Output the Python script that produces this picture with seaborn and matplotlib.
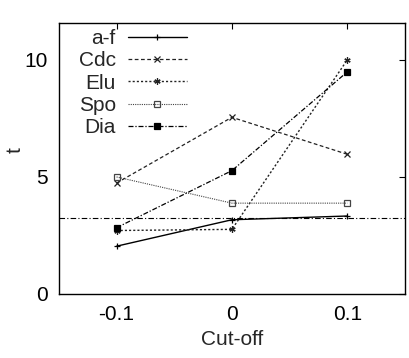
import pandas as pd
import numpy as np
import matplotlib.pyplot as plt
import seaborn as sns

cutoff = [-0.1, 0.0, 0.1]
af = [2.04, 3.17, 3.33]
cdc = [4.74, 7.55, 5.97]
elu = [2.71, 2.76, 10.0]
spo = [5.0, 3.88, 3.88]
dia = [2.83, 5.27, 9.49]
baseline = 3.26

series_names = ['a-f', 'Cdc', 'Elu', 'Spo', 'Dia']
series_vals = [af, cdc, elu, spo, dia]

sns.set_style('white')
plt.rcParams['font.family'] = ['Liberation Sans', 'DejaVu Sans']

fig = plt.figure(figsize=(4.09, 3.58), dpi=100)
ax = fig.add_axes([0.144, 0.179, 0.846, 0.758])

# styles for each line
styles = {
    'a-f': dict(linestyle='-', marker='+', markersize=5, color='black', lw=1.0),
    'Cdc': dict(linestyle=(0, (3, 2)), marker='x', markersize=4.5, color='#222222', lw=0.9),
    'Elu': dict(linestyle=(0, (1.5, 1.5)), marker=(6, 2, 0), markersize=4.5, color='#222222', lw=1.0),
    'Spo': dict(linestyle=(0, (1, 1)), marker='s', markersize=4.5, fillstyle='none', color='#444444', lw=0.8),
    'Dia': dict(linestyle=(0, (4, 1.5, 1, 1.5)), marker='s', markersize=5, color='black', lw=0.9),
}

for name, vals in zip(series_names, series_vals):
    df = pd.DataFrame({'Cut-off': cutoff, 't': vals})
    st = styles[name]
    sns.lineplot(data=df, x='Cut-off', y='t', ax=ax, label=name,
                 markeredgecolor=st['color'], markeredgewidth=0.9, **st)

ax.axhline(baseline, color='black', lw=0.8, linestyle=(0, (5, 2, 1, 2)))

ax.set_xlim(-0.15, 0.15)
ax.set_ylim(0, 11.6)
ax.set_xticks(cutoff)
ax.set_xticklabels(['-0.1', '0', '0.1'])
ax.set_yticks([0, 5, 10])
ax.tick_params(direction='in', length=4, width=0.8, top=True, right=True, labelsize=15, pad=8, colors='black')
for s in ax.spines.values():
    s.set_color('black')
    s.set_linewidth(1.0)

ax.set_xlabel('Cut-off', fontsize=15, labelpad=4)
ax.set_ylabel('t', fontsize=15)
ax.yaxis.set_label_coords(-0.098, 0.53)

ax.legend(loc='upper left', bbox_to_anchor=(0.015, 1.03), frameon=False, markerfirst=False,
          fontsize=15, handlelength=2.8, handletextpad=0.6, labelspacing=0.16, borderpad=0.2)

fig.savefig('out.png', dpi=100)
